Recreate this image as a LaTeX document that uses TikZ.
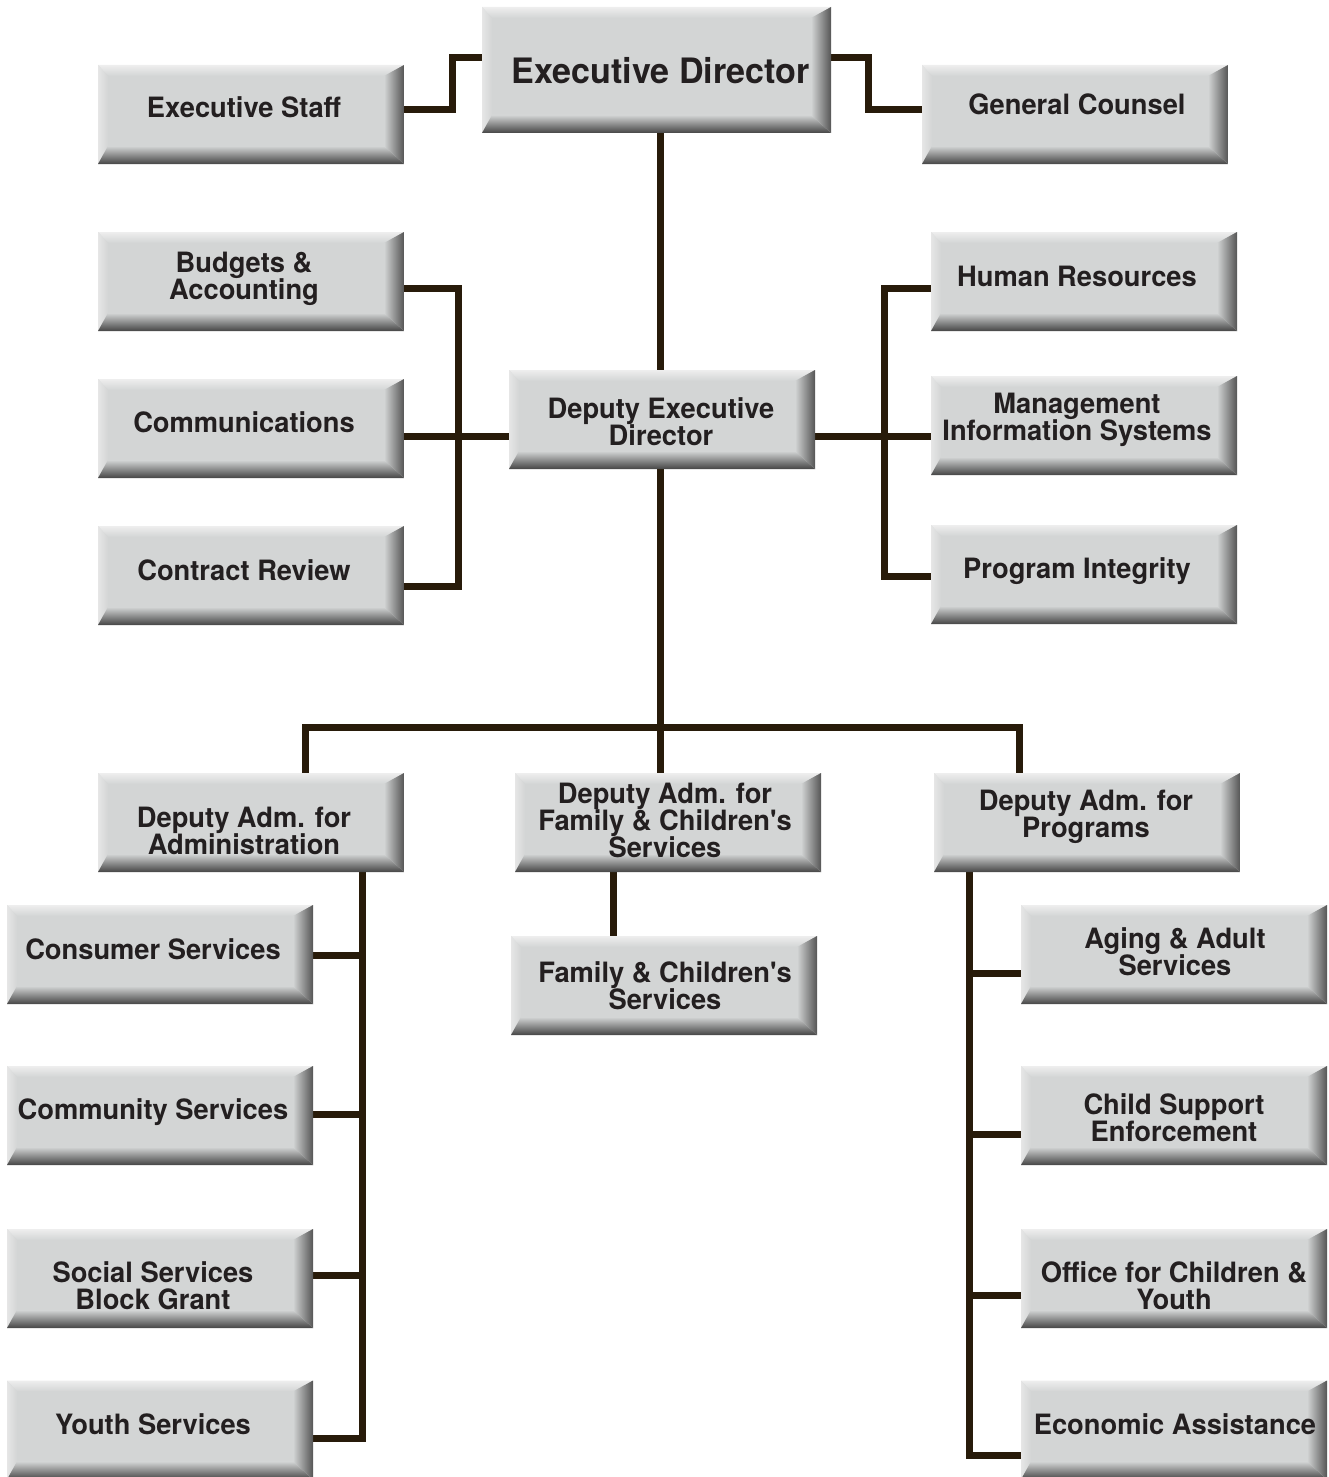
\documentclass[tikz,border=0pt]{standalone}
\usepackage{fontspec}
\newfontfamily\boxfont[FakeStretch=0.975]{TeX Gyre Heros}
\usetikzlibrary{backgrounds}
\definecolor{face}{HTML}{D3D5D5}
\definecolor{bvlight}{HTML}{EEEEEE}
\definecolor{bvleft}{HTML}{E6E6E6}
\definecolor{bvdark}{HTML}{454545}
\definecolor{bvdarkR}{HTML}{555555}
\definecolor{lineclr}{HTML}{281B0A}
\definecolor{txtclr}{HTML}{231F20}
\newcommand\bevelfill{%
 \coordinate (bSW) at (path picture bounding box.south west);
 \coordinate (bNE) at (path picture bounding box.north east);
 \coordinate (bNW) at (path picture bounding box.north west);
 \coordinate (bSE) at (path picture bounding box.south east);
 \shade[top color=bvlight, bottom color=face] (bNW) -- (bNE) -- ([shift={(-20pt,-11pt)}]bNE) -- ([shift={(10pt,-11pt)}]bNW) -- cycle;
 \shade[left color=bvleft, right color=face] (bNW) -- ([shift={(10pt,-11pt)}]bNW) -- ([shift={(10pt,18pt)}]bSW) -- (bSW) -- cycle;
 \shade[top color=face, bottom color=bvdark] (bSW) -- ([shift={(10pt,18pt)}]bSW) -- ([shift={(-20pt,18pt)}]bSE) -- (bSE) -- cycle;
 \shade[left color=face, right color=bvdarkR] (bSE) -- ([shift={(-20pt,18pt)}]bSE) -- ([shift={(-20pt,-11pt)}]bNE) -- (bNE) -- cycle;
}
\begin{document}
\begin{tikzpicture}[x=1pt,y=1pt,
  conn/.style={draw=lineclr,line width=7pt},
  orgbox/.style={rectangle,inner sep=0pt,minimum width=306pt,minimum height=99pt,fill=face,path picture={\bevelfill}},
  boxtext/.style={font=\boxfont\bfseries\fontsize{28}{27}\selectfont,text=txtclr,align=center,inner sep=0pt},
  edtext/.style={font=\boxfont\bfseries\fontsize{35}{35}\selectfont,text=txtclr,align=center,inner sep=0pt}]
\useasboundingbox (0,0) rectangle (1328,-1477);

% boxes
\node[orgbox,minimum width=349pt,minimum height=126pt] (ed) at (656.5,-70) {};
\node[edtext] (edt) at ([shift={(4pt,-1pt)}]ed.center) {Executive Director};
\node[orgbox] (es) at (251,-114.5) {};
\node[boxtext] (est) at ([shift={(-7pt,7pt)}]es.center) {Executive Staff};
\node[orgbox] (gc) at (1075,-114.5) {};
\node[boxtext] (gct) at ([shift={(2pt,10pt)}]gc.center) {General Counsel};

\node[orgbox] (bud) at (251,-281.5) {};
\node[boxtext] (budt) at ([shift={(-7pt,3pt)}]bud.center) {Budgets \&\\Accounting};
\node[orgbox] (com) at (251,-428.5) {};
\node[boxtext] (comt) at ([shift={(-7pt,6pt)}]com.center) {Communications};
\node[orgbox] (con) at (251,-575.5) {};
\node[boxtext] (cont) at ([shift={(-7pt,5pt)}]con.center) {Contract Review};

\node[orgbox] (ded) at (662,-419.5) {};
\node[boxtext] (dedt) at ([shift={(-1pt,-2pt)}]ded.center) {Deputy Executive\\Director};

\node[orgbox] (hr) at (1084,-281.5) {};
\node[boxtext] (hrt) at ([shift={(-7pt,5pt)}]hr.center) {Human Resources};
\node[orgbox] (mis) at (1084,-425.5) {};
\node[boxtext] (mist) at ([shift={(-7pt,6pt)}]mis.center) {Management\\Information Systems};
\node[orgbox] (pi) at (1084,-574.5) {};
\node[boxtext] (pit) at ([shift={(-7pt,3pt)}]pi.center) {Program Integrity};

\node[orgbox] (adm) at (251,-822.5) {};
\node[boxtext] (admt) at ([shift={(-7pt,-8pt)}]adm.center) {Deputy Adm. for\\Administration};
\node[orgbox] (dafc) at (668,-822.5) {};
\node[boxtext] (dafct) at ([shift={(-3pt,2pt)}]dafc.center) {Deputy Adm. for\\Family \& Children's\\Services};
\node[orgbox] (prg) at (1087,-822.5) {};
\node[boxtext] (prgt) at ([shift={(-1pt,6pt)}]prg.center) {Deputy Adm. for\\Programs};

\node[orgbox] (fcs) at (664,-985.5) {};
\node[boxtext] (fcst) at ([shift={(1pt,0pt)}]fcs.center) {Family \& Children's\\Services};

\node[orgbox] (cs) at (160,-954.5) {};
\node[boxtext] (cst) at ([shift={(-7pt,5pt)}]cs.center) {Consumer Services};
\node[orgbox] (cms) at (160,-1115.5) {};
\node[boxtext] (cmst) at ([shift={(-7pt,3pt)}]cms.center) {Community Services};
\node[orgbox] (ssbg) at (160,-1278.5) {};
\node[boxtext] (ssbgt) at ([shift={(-7pt,-7pt)}]ssbg.center) {Social Services\\Block Grant};
\node[orgbox] (ys) at (160,-1430) {};
\node[boxtext] (yst) at ([shift={(-7pt,6pt)}]ys.center) {Youth Services};

\node[orgbox] (aas) at (1174,-954.5) {};
\node[boxtext] (aast) at ([shift={(1pt,3pt)}]aas.center) {Aging \& Adult\\Services};
\node[orgbox] (cse) at (1174,-1115.5) {};
\node[boxtext] (cset) at ([yshift=-2pt]cse.center) {Child Support\\Enforcement};
\node[orgbox] (ocy) at (1174,-1278.5) {};
\node[boxtext] (ocyt) at ([yshift=-7pt]ocy.center) {Office for Children \&\\Youth};
\node[orgbox] (ea) at (1174,-1430) {};
\node[boxtext] (eat) at ([shift={(1pt,6pt)}]ea.center) {Economic Assistance};

% routing points
\coordinate (lb1) at (458,-288);
\coordinate (lhub) at (458,-436);
\coordinate (lb3) at (458,-586);
\coordinate (rb1) at (884,-288);
\coordinate (rhub) at (884,-436);
\coordinate (rb3) at (884,-576);
\coordinate (tL) at (305,-727);
\coordinate (tM) at (660,-727);
\coordinate (tR) at (1019,-727);
\coordinate (fx) at (613,-900);
\coordinate (ax) at (362,-1438);
\coordinate (a1) at (362,-955);
\coordinate (a2) at (362,-1114);
\coordinate (a3) at (362,-1275);
\coordinate (px) at (969,-1455);
\coordinate (p1) at (969,-973);
\coordinate (p2) at (969,-1134);
\coordinate (p3) at (969,-1295);

\begin{pgfonlayer}{background}
\draw[conn] ([yshift=4.5pt]es.east) -- ++(48,0) |- ([yshift=12pt]ed.west);
\draw[conn] ([yshift=12pt]ed.east) -- ++(37,0) |- ([yshift=4.5pt]gc.west);
\draw[conn] (ed.south -| tM) -- (ded.north -| tM);
\draw[conn] (bud.east |- lb1) -- (lb1) -- (lb3) -- (con.east |- lb3);
\draw[conn] (com.east |- lhub) -- (ded.west |- lhub);
\draw[conn] (hr.west |- rb1) -- (rb1) -- (rb3) -- (pi.west |- rb3);
\draw[conn] (ded.east |- rhub) -- (mis.west |- rhub);
\draw[conn] (ded.south -| tM) -- (dafc.north -| tM);
\draw[conn] (adm.north -| tL) -- (tL) -- (tR) -- (prg.north -| tR);
\draw[conn] (dafc.south -| fx) -- (fcs.north -| fx);
\draw[conn] (adm.south -| ax) -- (ax) -- (ys.east |- ax);
\draw[conn] (cs.east |- a1) -- (a1);
\draw[conn] (cms.east |- a2) -- (a2);
\draw[conn] (ssbg.east |- a3) -- (a3);
\draw[conn] (prg.south -| px) -- (px) -- (ea.west |- px);
\draw[conn] (aas.west |- p1) -- (p1);
\draw[conn] (cse.west |- p2) -- (p2);
\draw[conn] (ocy.west |- p3) -- (p3);
\end{pgfonlayer}
\end{tikzpicture}
\end{document}
